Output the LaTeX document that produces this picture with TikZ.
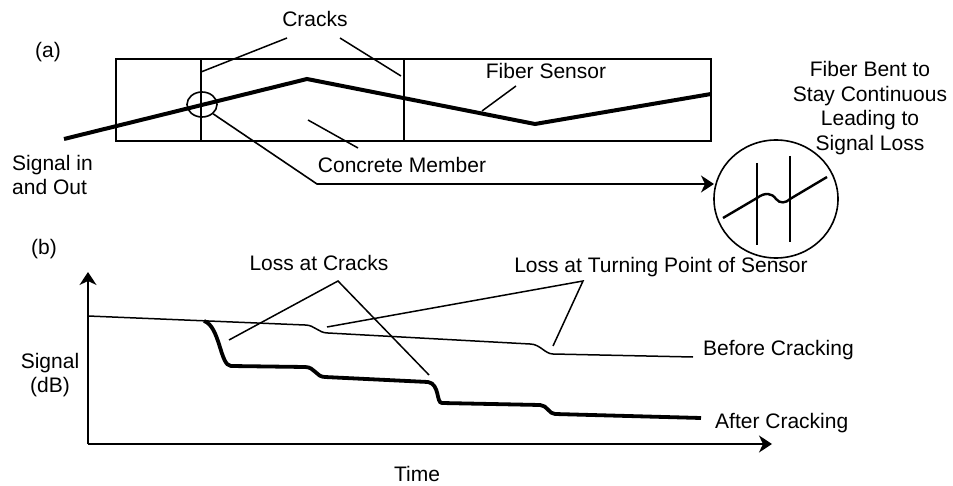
\documentclass[tikz,border=0pt]{standalone}
\usepackage{fontspec}
\setmainfont{Liberation Sans}
\usetikzlibrary{arrows.meta,shapes.geometric}
\begin{document}
\begin{tikzpicture}[x=1pt,y=-1pt,
  lbl/.style={inner sep=0pt, font=\fontsize{21}{24.5}\selectfont, align=center},
  leader/.style={line width=1.5pt},
  edge/.style={line width=1.6pt},
  fiber/.style={line width=4pt},
  trace/.style={line width=1.5pt},
  tracethick/.style={line width=3.8pt},
  tip/.style={-{Stealth[length=13pt,width=17pt,inset=4pt]}, line width=1.6pt}]
\useasboundingbox (0,0) rectangle (953,486);

% ---------- panel (a) ----------
\node[lbl] (la) at (48,52) {(a)};
\node[draw, edge, minimum width=595pt, minimum height=82pt, inner sep=0pt] (member) at (413.5,100) {};
\coordinate (c1t) at (201,59);  \coordinate (c1b) at (201,141);
\coordinate (c2t) at (404,59);  \coordinate (c2b) at (404,141);
\draw[edge] (c1t) -- (c1b);
\draw[edge] (c2t) -- (c2b);

\coordinate (f0) at (64,139);
\coordinate (f1) at (307,79);
\coordinate (f2) at (535,124);
\coordinate (f3) at (711,94);
\draw[fiber, line join=miter] (f0) -- (f1) -- (f2) -- (f3);

\node[lbl] (cracks) at (315,19) {Cracks};
\coordinate (ck1) at (201,72);
\coordinate (ck2) at (401,76);
\draw[leader] (287,38) coordinate (ca) -- (ck1);
\draw[leader] (340,38) coordinate (cb) -- (ck2);

\node[draw, edge, ellipse, minimum width=30pt, minimum height=25pt, inner sep=0pt] (small) at (202,104.5) {};

\node[lbl] (concrete) at (402,165) {Concrete Member};
\coordinate (cm1) at (308,120);
\coordinate (cm2) at (358,148);
\draw[leader] (cm1) -- (cm2);

\node[lbl] (fsensor) at (546,71) {Fiber Sensor};
\coordinate (fs1) at (516,86);
\coordinate (fs2) at (482,111);
\draw[leader] (fs1) -- (fs2);

\node[lbl, align=left, anchor=west] (sig) at (12,175) {Signal in\\and Out};

\node[draw, edge, ellipse, minimum width=124pt, minimum height=118pt, inner sep=0pt] (detail) at (776,199) {};
\coordinate (bend) at (317,184);
\coordinate (arrEnd) at (714,184);
\draw[tip] (small.-40) -- (bend) -- (arrEnd);

\coordinate (dv1t) at (757,163); \coordinate (dv1b) at (757,245);
\coordinate (dv2t) at (790,156); \coordinate (dv2b) at (790,242);
\draw[edge] (dv1t) -- (dv1b);
\draw[edge] (dv2t) -- (dv2b);
\draw[line width=2.4pt] (723,218) -- (757,198)
   .. controls (765,192) and (772,193) .. (776,199)
   .. controls (780,204) and (786,203) .. (790,199) -- (827,177);

\node[lbl] (bent) at (870,108) {Fiber Bent to\\Stay Continuous\\Leading to\\Signal Loss};

% ---------- panel (b) ----------
\node[lbl] (lb) at (44,249) {(b)};
\coordinate (origin) at (88,444);
\coordinate (ytop) at (88,272);
\coordinate (xend) at (772,444);
\draw[tip] (origin) -- (ytop);
\draw[tip] (origin) -- (xend);

\node[lbl] (signal) at (50,375) {Signal\\(dB)};
\node[lbl] (time) at (417,474) {Time};

% before cracking
\draw[trace] (88,316) -- (305,325)
   .. controls (315,325) and (318,333) .. (328,333)
   -- (530,344)
   .. controls (540,344) and (545,354) .. (553,354)
   -- (693,357);
% after cracking
\draw[tracethick] (204,321)
   .. controls (220,326) and (220,366) .. (231,366)
   -- (305,367)
   .. controls (315,367) and (316,377) .. (325,377)
   -- (428,382)
   .. controls (440,384) and (436,403) .. (442,403)
   -- (540,405)
   .. controls (547,405) and (549,414) .. (555,414)
   -- (701,418);

\node[lbl] (lcracks) at (319,263) {Loss at Cracks};
\coordinate (apx1) at (338,281);
\coordinate (lc1) at (229,340);
\coordinate (lc2) at (429,375);
\draw[leader] (lc1) -- (apx1) -- (lc2);

\node[lbl] (lturn) at (661,267) {Loss at Turning Point of Sensor};
\coordinate (apx2) at (583,281);
\coordinate (lt1) at (327,327);
\coordinate (lt2) at (553,346);
\draw[leader] (lt1) -- (apx2) -- (lt2);

\node[lbl, anchor=west] (before) at (703,350) {Before Cracking};
\node[lbl, anchor=west] (after) at (715,423) {After Cracking};
\end{tikzpicture}
\end{document}
